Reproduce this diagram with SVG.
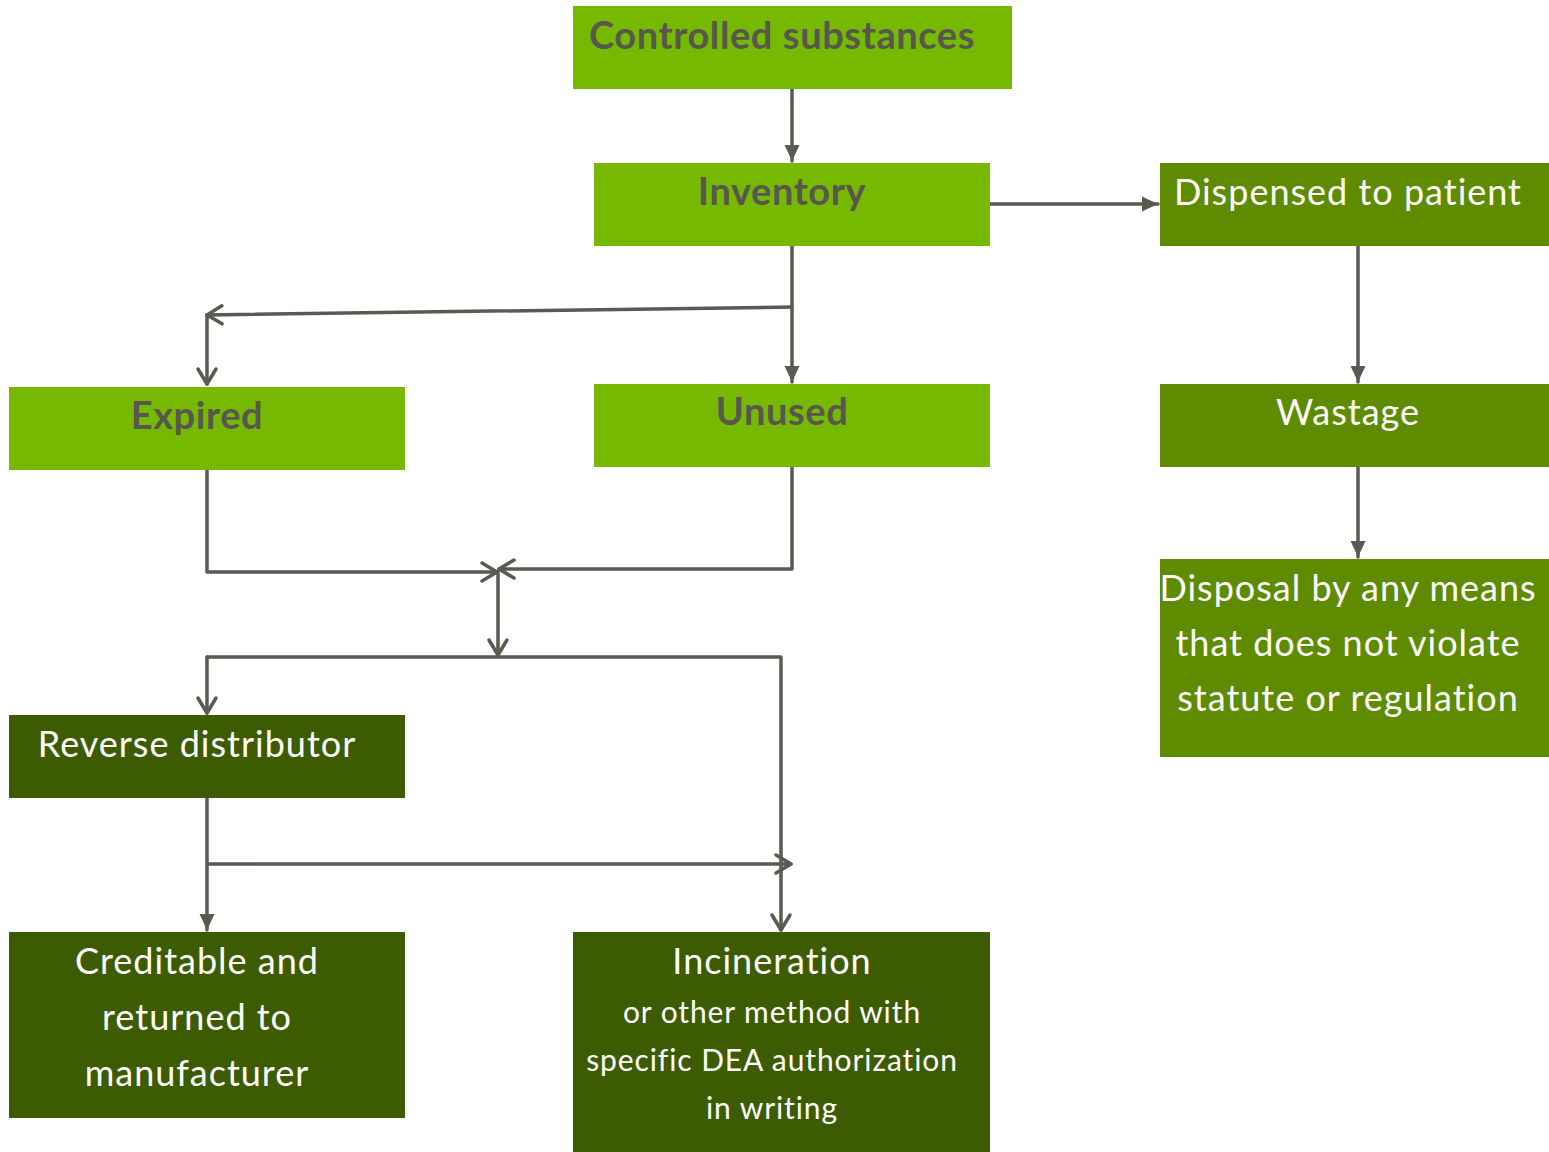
<svg xmlns="http://www.w3.org/2000/svg" width="1549" height="1152" viewBox="0 0 1549 1152">
<style>
.light{fill:#76b900}
.mid{fill:#5e8b00}
.dark{fill:#3d5b00}
.tb{font-family:Lato,"Open Sans",sans-serif;font-weight:bold;font-size:38px;letter-spacing:0.6px;fill:#57574f;text-anchor:middle}
.tw{font-family:Lato,"Open Sans",sans-serif;font-size:36px;letter-spacing:1px;fill:#ffffff;text-anchor:middle}
.ts{font-family:Lato,"Open Sans",sans-serif;font-size:30px;letter-spacing:0.9px;fill:#ffffff;text-anchor:middle}
.c{fill:none;stroke:#595a52;stroke-width:3.5;stroke-linecap:round;stroke-linejoin:round}
</style>
<defs>
<marker id="fa" markerUnits="userSpaceOnUse" markerWidth="20" markerHeight="20" viewBox="-18 -10 20 20" refX="0" refY="0" orient="auto">
<path d="M0,0 L-16,-7.5 L-16,7.5 Z" fill="#595a52"/>
</marker>
<marker id="oa" markerUnits="userSpaceOnUse" markerWidth="30" markerHeight="30" viewBox="-20 -15 30 30" refX="0" refY="0" orient="auto">
<path d="M-15,-9 L0,0 L-15,9" fill="none" stroke="#595a52" stroke-width="3.5" stroke-linecap="round" stroke-linejoin="round"/>
</marker>
</defs>
<g id="connectors">
<path class="c" d="M792,89 V161" marker-end="url(#fa)"/>
<path class="c" d="M990,204 H1158" marker-end="url(#fa)"/>
<path class="c" d="M792,246 V382" marker-end="url(#fa)"/>
<path class="c" d="M792,307 L207,315" marker-end="url(#oa)"/>
<path class="c" d="M207,315 V384" marker-end="url(#oa)"/>
<path class="c" d="M1358,246 V382" marker-end="url(#fa)"/>
<path class="c" d="M1358,467 V557" marker-end="url(#fa)"/>
<path class="c" d="M207,470 V572 H497" marker-end="url(#oa)"/>
<path class="c" d="M792,467 V569 H499" marker-end="url(#oa)"/>
<path class="c" d="M498,572 V655" marker-end="url(#oa)"/>
<path class="c" d="M207,657 H781 V930" marker-end="url(#oa)"/>
<path class="c" d="M207,657 V713" marker-end="url(#oa)"/>
<path class="c" d="M207,798 V930" marker-end="url(#fa)"/>
<path class="c" d="M207,864 H791" marker-end="url(#oa)"/>
</g>
<g id="controlled">
<rect class="light" x="573" y="6" width="439" height="83"/>
<text class="tb" x="782" y="49">Controlled substances</text>
</g>
<g id="inventory">
<rect class="light" x="594" y="163" width="396" height="83"/>
<text class="tb" x="782" y="205">Inventory</text>
</g>
<g id="dispensed">
<rect class="mid" x="1160" y="163" width="389" height="83"/>
<text class="tw" x="1348" y="205">Dispensed to patient</text>
</g>
<g id="expired">
<rect class="light" x="9" y="387" width="396" height="83"/>
<text class="tb" x="197" y="429">Expired</text>
</g>
<g id="unused">
<rect class="light" x="594" y="384" width="396" height="83"/>
<text class="tb" x="782" y="425">Unused</text>
</g>
<g id="wastage">
<rect class="mid" x="1160" y="384" width="389" height="83"/>
<text class="tw" x="1348" y="425">Wastage</text>
</g>
<g id="disposal">
<rect class="mid" x="1160" y="559" width="389" height="198"/>
<text class="tw" x="1348" y="601">Disposal by any means</text>
<text class="tw" x="1348" y="656">that does not violate</text>
<text class="tw" x="1348" y="711">statute or regulation</text>
</g>
<g id="reverse">
<rect class="dark" x="9" y="715" width="396" height="83"/>
<text class="tw" x="197" y="757">Reverse distributor</text>
</g>
<g id="creditable">
<rect class="dark" x="9" y="932" width="396" height="186"/>
<text class="tw" x="197" y="974">Creditable and</text>
<text class="tw" x="197" y="1030">returned to</text>
<text class="tw" x="197" y="1086">manufacturer</text>
</g>
<g id="incineration">
<rect class="dark" x="573" y="932" width="417" height="220"/>
<text class="tw" x="772" y="974">Incineration</text>
<text class="ts" x="772" y="1023">or other method with</text>
<text class="ts" x="772" y="1071">specific DEA authorization</text>
<text class="ts" x="772" y="1119">in writing</text>
</g>
</svg>
